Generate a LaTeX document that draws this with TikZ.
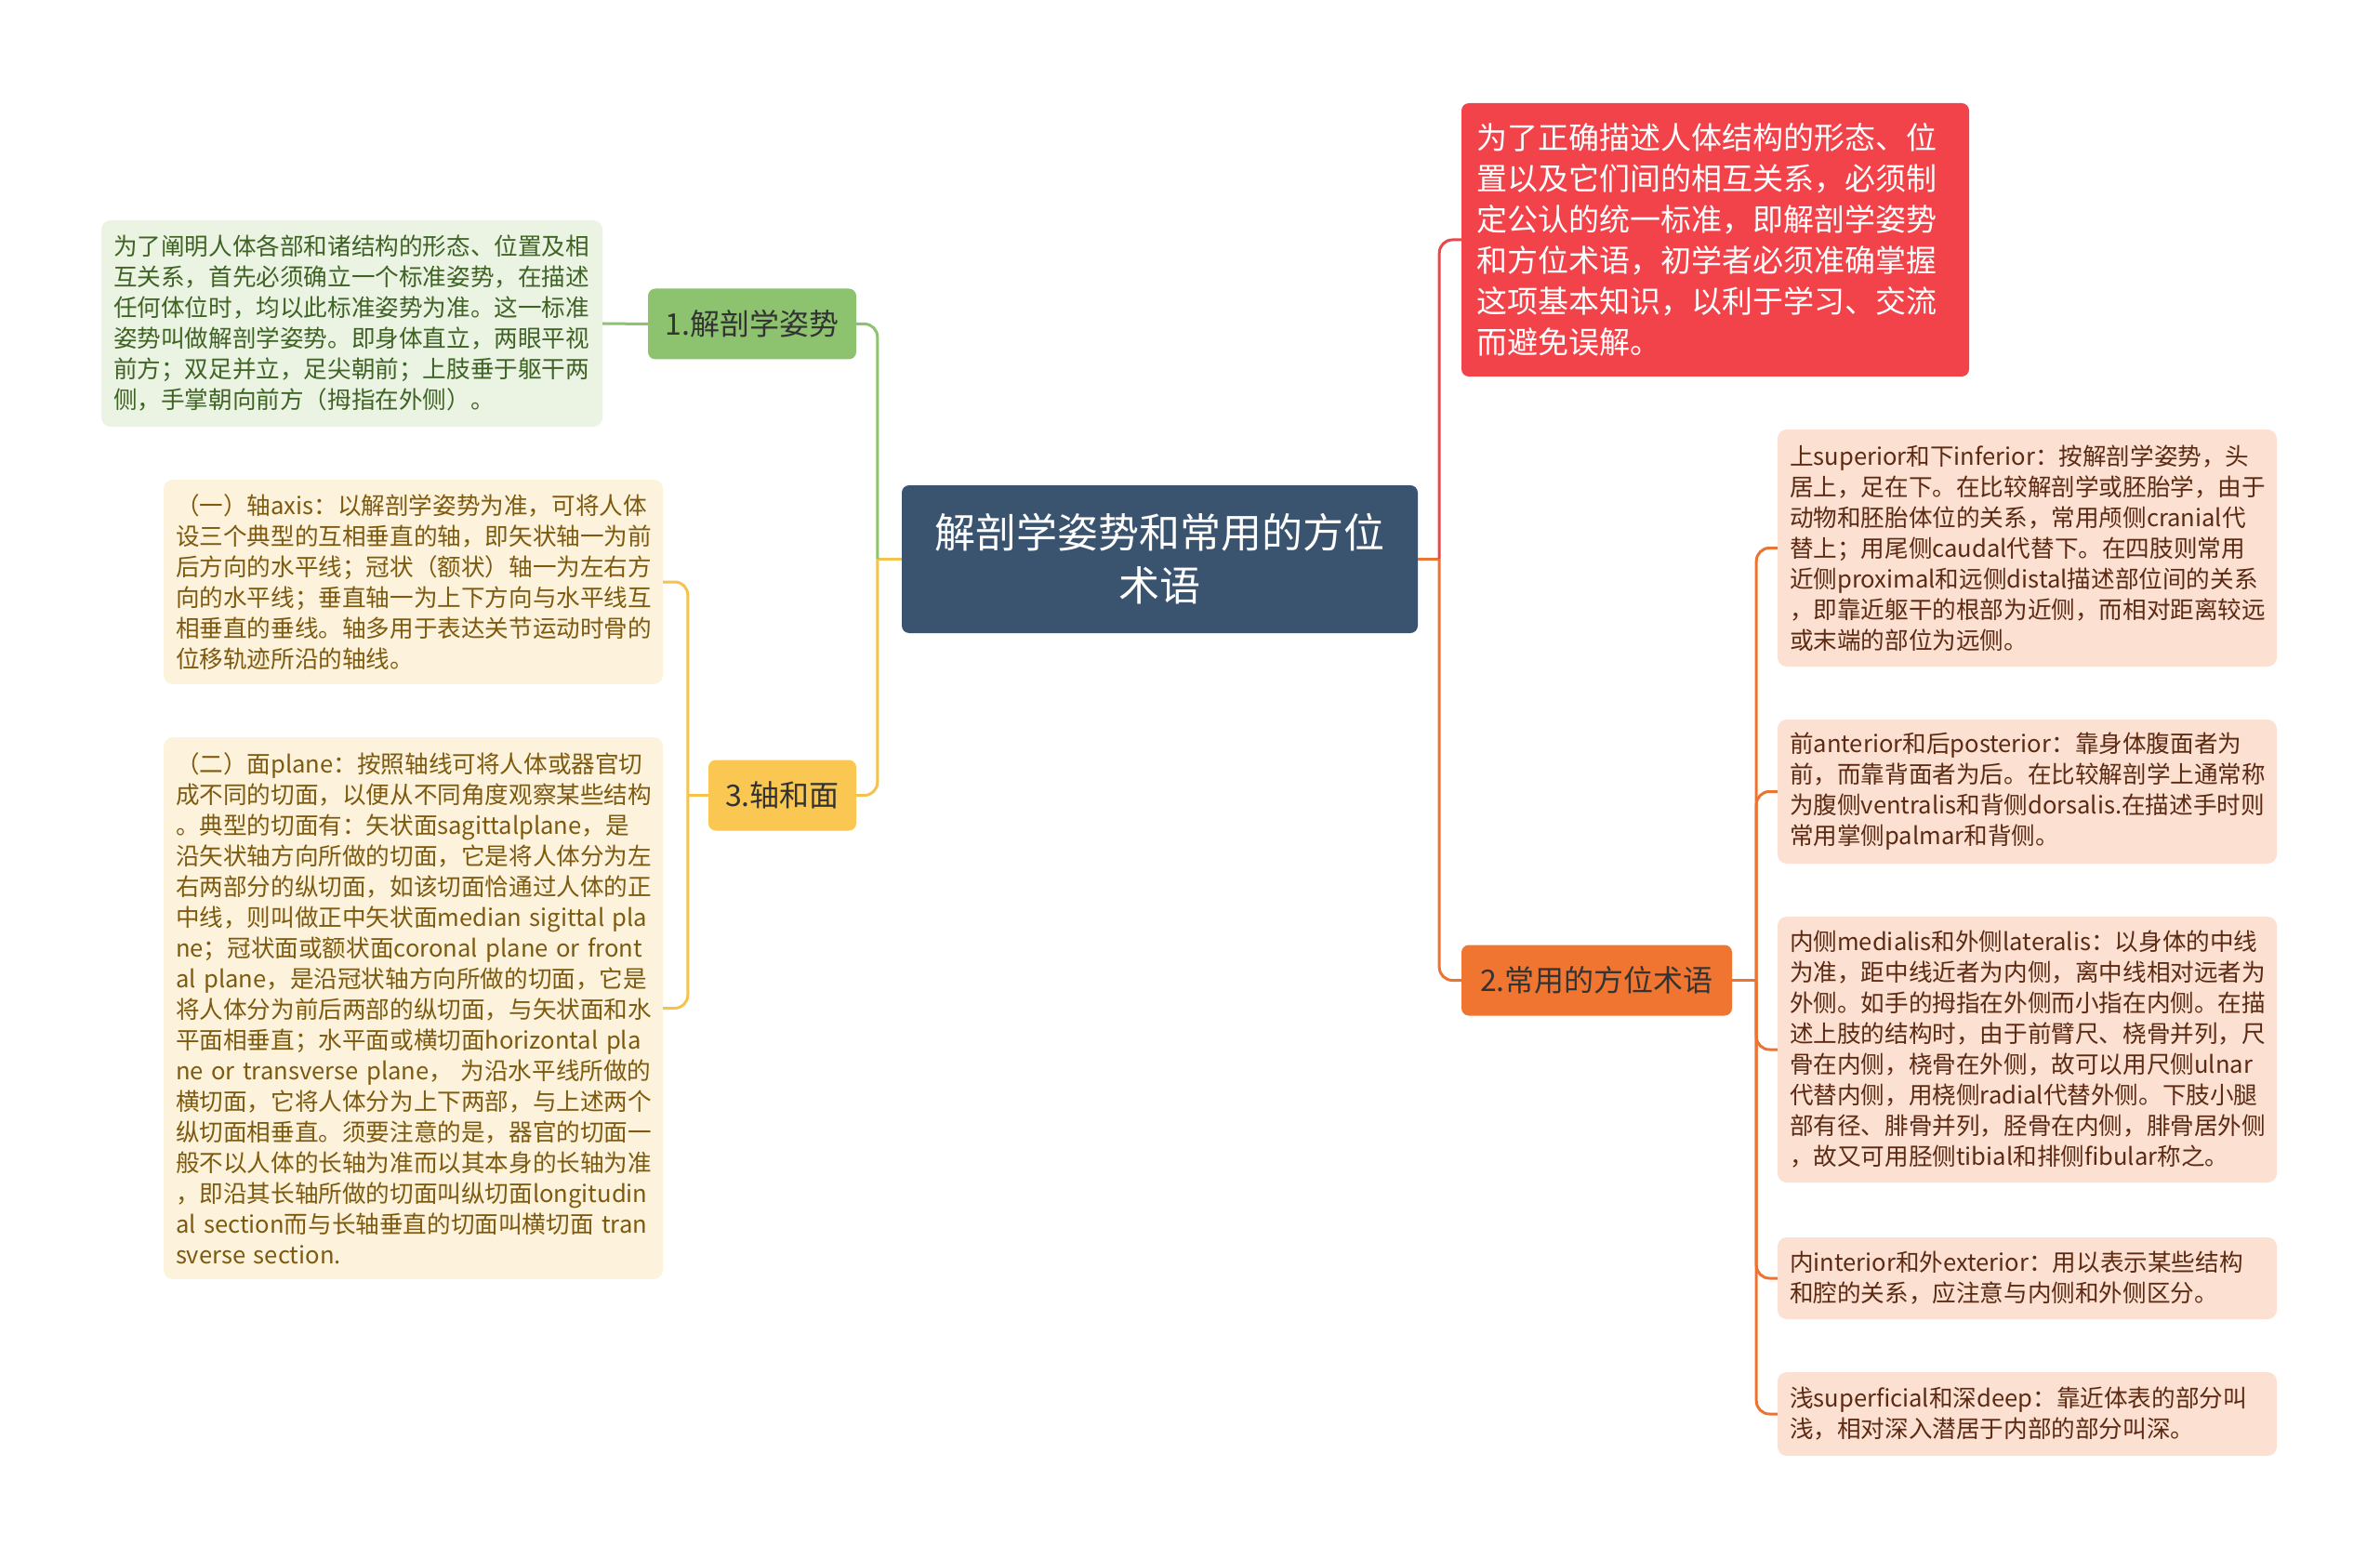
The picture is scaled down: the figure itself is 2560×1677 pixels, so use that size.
\documentclass[tikz,border=0pt]{standalone}
\usepackage{fontspec}
\setmainfont{Noto Sans CJK SC}
\definecolor{rootblue}{HTML}{3A5470}
\definecolor{greentopic}{HTML}{8DC26F}
\definecolor{greenleaf}{HTML}{EBF3E2}
\definecolor{greentext}{HTML}{3E6324}
\definecolor{yellowtopic}{HTML}{F9C752}
\definecolor{yellowline}{HTML}{F5C24C}
\definecolor{yellowleaf}{HTML}{FDF3DC}
\definecolor{yellowtext}{HTML}{7D5A0F}
\definecolor{redtopic}{HTML}{F2434A}
\definecolor{redline}{HTML}{E8474C}
\definecolor{orangetopic}{HTML}{F07530}
\definecolor{orangeline}{HTML}{EC7433}
\definecolor{orangeleaf}{HTML}{FCE1D3}
\definecolor{orangetext}{HTML}{5C2A12}
\definecolor{topictext}{HTML}{333333}
\tikzset{
	rootbox/.style={rectangle, rounded corners=8pt, fill=rootblue, text=white, font=\fontsize{44}{57}\selectfont, align=center, minimum width=555pt, minimum height=159pt},
	topicbox/.style={rectangle, rounded corners=8pt, text=topictext, font=\fontsize{32}{40}\selectfont, minimum height=76pt, text centered},
	leafbox/.style={rectangle, rounded corners=10pt, inner xsep=13pt, inner ysep=0pt, font=\fontsize{25.6}{33}\selectfont, align=left, text width=511pt},
	link/.style={line width=3pt, rounded corners=14pt}
}
\begin{document}
\begin{tikzpicture}[x=1pt, y=-1pt]
	\fill[white] (0,0) rectangle (2560,1677);
	\node[rootbox] (C) at (1247.5,601.5) {解剖学姿势和常用的方位\\术语};
	\node[topicbox, fill=greentopic, minimum width=224pt] (T1) at (809,348.5) {1.解剖学姿势};
	\node[topicbox, fill=yellowtopic, minimum width=159pt] (T3) at (841.5,855.5) {3.轴和面};
	\node[topicbox, fill=orangetopic, minimum width=291pt] (T2) at (1717.5,1054.5) {2.常用的方位术语};
	\node[rectangle, rounded corners=8pt, fill=redtopic, text=white, font=\fontsize{33}{44}\selectfont, align=left, inner xsep=16pt, text width=514pt, minimum height=294pt] (R1) at (1845,258) {为了正确描述人体结构的形态、位\\置以及它们间的相互关系，必须制\\定公认的统一标准，即解剖学姿势\\和方位术语，初学者必须准确掌握\\这项基本知识，以利于学习、交流\\而避免误解。};
	\node[leafbox, fill=greenleaf, text=greentext, text width=513pt, minimum height=222pt] (G1) at (378.5,348) {为了阐明人体各部和诸结构的形态、位置及相\\互关系，首先必须确立一个标准姿势，在描述\\任何体位时，均以此标准姿势为准。这一标准\\姿势叫做解剖学姿势。即身体直立，两眼平视\\前方；双足并立，足尖朝前；上肢垂于躯干两\\侧，手掌朝向前方（拇指在外侧）。};
	\node[leafbox, fill=yellowleaf, text=yellowtext, minimum height=220pt] (Y1) at (444.5,626) {（一）轴axis：以解剖学姿势为准，可将人体\\设三个典型的互相垂直的轴，即矢状轴一为前\\后方向的水平线；冠状（额状）轴一为左右方\\向的水平线；垂直轴一为上下方向与水平线互\\相垂直的垂线。轴多用于表达关节运动时骨的\\位移轨迹所沿的轴线。};
	\node[leafbox, fill=yellowleaf, text=yellowtext, minimum height=583pt] (Y2) at (444.5,1084.5) {（二）面plane：按照轴线可将人体或器官切\\成不同的切面，以便从不同角度观察某些结构\\。典型的切面有：矢状面sagittalplane，是\\沿矢状轴方向所做的切面，它是将人体分为左\\右两部分的纵切面，如该切面恰通过人体的正\\中线，则叫做正中矢状面median~sigittal~pla\\ne；冠状面或额状面coronal~plane~or~front\\al plane，是沿冠状轴方向所做的切面，它是\\将人体分为前后两部的纵切面，与矢状面和水\\平面相垂直；水平面或横切面horizontal~pla\\ne~or~transverse~plane，~为沿水平线所做的\\横切面，它将人体分为上下两部，与上述两个\\纵切面相垂直。须要注意的是，器官的切面一\\般不以人体的长轴为准而以其本身的长轴为准\\，即沿其长轴所做的切面叫纵切面longitudin\\al~section而与长轴垂直的切面叫横切面~tran\\sverse section.};
	\node[leafbox, fill=orangeleaf, text=orangetext, minimum height=255pt] (O1) at (2180.5,589.5) {上superior和下inferior：按解剖学姿势，头\\居上，足在下。在比较解剖学或胚胎学，由于\\动物和胚胎体位的关系，常用颅侧cranial代\\替上；用尾侧caudal代替下。在四肢则常用\\近侧proximal和远侧distal描述部位间的关系\\，即靠近躯干的根部为近侧，而相对距离较远\\或末端的部位为远侧。};
	\node[leafbox, fill=orangeleaf, text=orangetext, minimum height=155pt] (O2) at (2180.5,851.5) {前anterior和后posterior：靠身体腹面者为\\前，而靠背面者为后。在比较解剖学上通常称\\为腹侧ventralis和背侧dorsalis.在描述手时则\\常用掌侧palmar和背侧。};
	\node[leafbox, fill=orangeleaf, text=orangetext, minimum height=286pt] (O3) at (2180.5,1129) {内侧medialis和外侧lateralis：以身体的中线\\为准，距中线近者为内侧，离中线相对远者为\\外侧。如手的拇指在外侧而小指在内侧。在描\\述上肢的结构时，由于前臂尺、桡骨并列，尺\\骨在内侧，桡骨在外侧，故可以用尺侧ulnar\\代替内侧，用桡侧radial代替外侧。下肢小腿\\部有径、腓骨并列，胫骨在内侧，腓骨居外侧\\，故又可用胫侧tibial和排侧fibular称之。};
	\node[leafbox, fill=orangeleaf, text=orangetext, minimum height=88pt] (O4) at (2180.5,1375) {内interior和外exterior：用以表示某些结构\\和腔的关系，应注意与内侧和外侧区分。};
	\node[leafbox, fill=orangeleaf, text=orangetext, minimum height=90pt] (O5) at (2180.5,1521) {浅superficial和深deep：靠近体表的部分叫\\浅，相对深入潜居于内部的部分叫深。};
	\node[shape=coordinate] at ([xshift=-26pt]C.west) (PL) {};
	\node[shape=coordinate] at ([xshift=23pt]C.east) (PR) {};
	\node[shape=coordinate] at ([xshift=-22pt]T3.west) (PY) {};
	\node[shape=coordinate] at ([xshift=26pt]T2.east) (PO) {};
	\draw[link, yellowline] (C.west) -- (PL);
	\draw[link, greentopic] (PL) |- (T1.east);
	\draw[link, yellowline] (PL) |- (T3.east);
	\draw[link, greentopic] (G1.east) -- (T1.west);
	\draw[link, yellowline] (T3.west) -- (PY);
	\draw[link, yellowline] (PY) |- (Y1.east);
	\draw[link, yellowline] (PY) |- (Y2.east);
	\draw[link, orangeline] (C.east) -- (PR);
	\draw[link, redline] (PR) |- (R1.west);
	\draw[link, orangeline] (PR) |- (T2.west);
	\draw[link, orangeline] (T2.east) -- (PO);
	\foreach \i in {1,...,5}
		\draw[link, orangeline] (PO) |- (O\i.west);
\end{tikzpicture}
\end{document}
